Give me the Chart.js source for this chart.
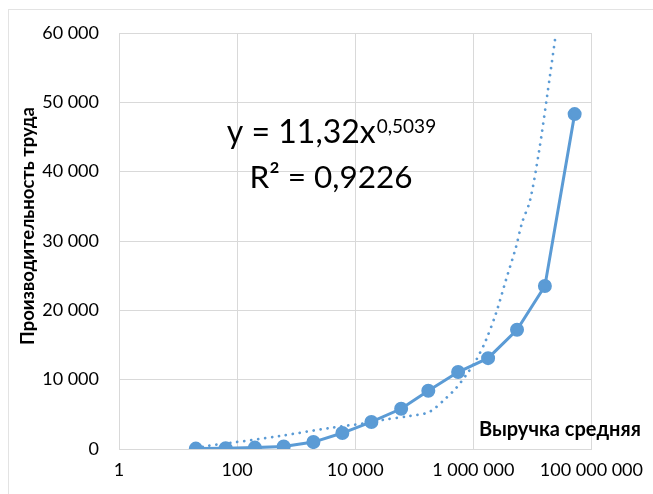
<!DOCTYPE html>
<html>
<head>
<meta charset="utf-8">
<script src="https://cdn.jsdelivr.net/npm/chart.js@4"></script>
<style>
html,body{margin:0;padding:0;background:#fff;}
#c{display:block;}
</style>
</head>
<body>
<canvas id="c" width="653" height="494"></canvas>
<script>
// revenue (x, log scale) and labour productivity (y)
const revenue=[20,64,200,615,1960,6060,18800,60000,173000,553000,1780000,5500000,16300000,52000000];
const productivity=[60,120,200,350,1000,2300,3900,5800,8400,11100,13100,17200,23500,48300];
// power trendline as drawn by the spreadsheet
const trendX=[20,30.6,75,525,3660,15500,28800,82400,179000,347000,513000,757000,1120000,1640000,2430000,3580000,5270000,6670000,9100000,12900000,17700000,25000000];
const trendY=[60,430,865,1875,3030,3750,4180,4760,5340,7360,8800,10670,12840,15720,19600,24400,29100,32600,35800,42800,50800,59900];
const xTicks=[1,100,10000,1000000,100000000];
const yTicks=[0,10000,20000,30000,40000,50000,60000];

const eqMain='y = 11,32x',eqExp='0,5039',eqR2='R² = 0,9226';
const xTitle='Выручка средняя',yTitle='Производительность труда';

const blue='#5B9BD5',grid='#d9d9d9',FF='Lato, "Open Sans", sans-serif';
const fmt=v=>String(v).replace(/\B(?=(\d{3})+(?!\d))/g,' ');

const textPlugin={id:'texts',
  beforeDraw(ch){const c=ch.ctx;c.save();c.strokeStyle='#e3e3e3';c.lineWidth=1;c.strokeRect(8.5,9.5,700,600);c.restore();},
  afterDraw(ch){const c=ch.ctx;c.save();c.fillStyle='#000';c.textBaseline='alphabetic';
    // equation
    c.font='32px '+FF;const w1=c.measureText(eqMain).width;
    c.font='19px '+FF;const w2=c.measureText(eqExp).width;
    const cx=331,x0=cx-(w1+w2)/2;
    c.textAlign='left';c.font='32px '+FF;c.fillText(eqMain,x0,143);
    c.font='19px '+FF;c.fillText(eqExp,x0+w1+1,133);
    c.textAlign='center';c.font='31.5px '+FF;c.fillText(eqR2,cx,188);
    // axis titles
    c.font='bold 20px '+FF;c.textAlign='left';c.fillText(xTitle,479,436);
    c.font='bold 18.5px '+FF;
    c.translate(28,226);c.rotate(-Math.PI/2);c.textAlign='center';c.textBaseline='middle';c.fillText(yTitle,0,0);
    c.restore();}
};

new Chart(document.getElementById('c'),{
  type:'scatter',
  data:{datasets:[
    {data:trendX.map((x,i)=>({x,y:trendY[i]})),showLine:true,borderColor:blue,borderWidth:2.75,borderDash:[0.01,7],borderCapStyle:'round',pointRadius:0,tension:0.3,fill:false},
    {data:revenue.map((x,i)=>({x,y:productivity[i]})),showLine:true,borderColor:blue,backgroundColor:blue,borderWidth:3,pointRadius:5.5,pointBackgroundColor:blue,pointBorderColor:blue,tension:0}
  ]},
  options:{responsive:false,animation:false,devicePixelRatio:1,
    layout:{padding:{top:33,right:60,left:0,bottom:0}},
    plugins:{legend:{display:false},tooltip:{enabled:false}},
    scales:{
      x:{type:'logarithmic',min:1,max:100000000,
        afterBuildTicks:s=>{s.ticks=xTicks.map(v=>({value:v}));},
        afterFit:s=>{s.height=45;},
        grid:{color:grid,lineWidth:1,drawTicks:false},border:{color:grid},
        ticks:{padding:10,color:'#000',font:{family:FF,size:18},maxRotation:0,autoSkip:false,callback:v=>fmt(v)}},
      y:{min:0,max:60000,
        afterBuildTicks:s=>{s.ticks=yTicks.map(v=>({value:v}));},
        afterFit:s=>{s.width=119;},
        grid:{color:grid,lineWidth:1,drawTicks:false},border:{color:grid},
        ticks:{padding:20,color:'#000',font:{family:FF,size:18},callback:v=>fmt(v)}}
    }
  },
  plugins:[textPlugin]
});
</script>
</body>
</html>
